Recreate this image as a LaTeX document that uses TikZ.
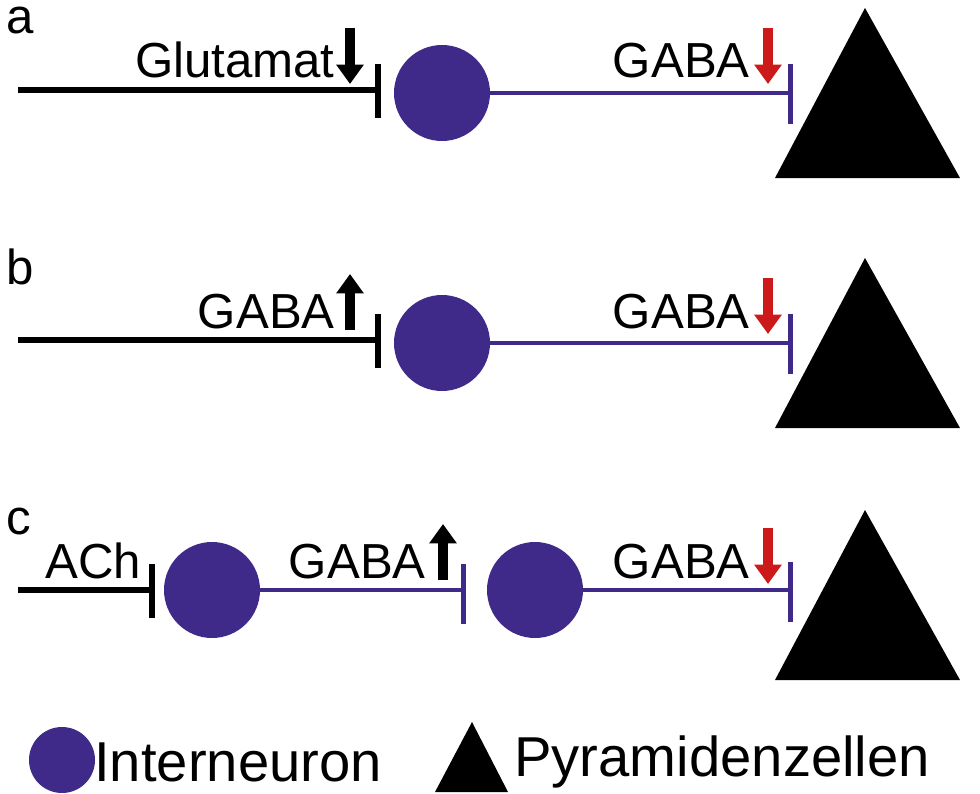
\documentclass[tikz,border=0pt]{standalone}
\usepackage{fontspec}
\setmainfont{Liberation Sans}
\usetikzlibrary{arrows.meta}
\definecolor{pur}{HTML}{3F2A8A}
\definecolor{rd}{HTML}{CC1A1A}
\begin{document}
\begin{tikzpicture}[x=0.02cm,y=-0.02cm,
  lab/.style={font=\fontsize{28}{28}\selectfont,inner sep=0pt},
  big/.style={font=\fontsize{32}{32}\selectfont,inner sep=0pt,anchor=west},
  neuron/.style={circle,fill=pur,minimum size=96*0.02cm,inner sep=0pt},
  inline/.style={line width=6*0.02cm,black},
  pline/.style={line width=4*0.02cm,pur},
  bbar/.style={line width=6*0.02cm,black},
  pbar/.style={line width=5*0.02cm,pur},
  blk/.style={-{Triangle[length=11pt,width=15pt]},line width=10*0.02cm,black},
  red/.style={blk,rd},
  pyr/.style={fill=black}]
\useasboundingbox (0,0) rectangle (980,794);
\foreach \r/\l/\dy in {a/a/0,b/b/250,c/c/500}{\node[lab,anchor=base west,font=\fontsize{28}{28}\selectfont] (lab\r) at (6,34+\dy) {\l};}
% rows a and b
\foreach \r/\dy/\txt in {a/0/Glutamat,b/250/GABA}{
  \coordinate (s\r) at (18,90+\dy);
  \coordinate (e\r) at (378,90+\dy);
  \draw[inline] (s\r) -- (e\r);
  \draw[bbar] (378,64+\dy) -- (378,118+\dy);
  \node[neuron] (n\r) at (442,93+\dy) {};
  \coordinate (pe\r) at (790,93+\dy);
  \draw[pline] (n\r) -- (pe\r);
  \draw[pbar] (790,64+\dy) -- (790,124+\dy);
  \node[lab,anchor=base east] (t\r) at (335,78+\dy) {\txt};
  \node[lab,anchor=base east] (g\r) at (750,78+\dy) {GABA};
  \draw[red] (768,28+\dy) -- (768,84+\dy);
  \fill[pyr] (865,8+\dy) -- (960,178+\dy) -- (775,178+\dy) -- cycle;
}
\draw[blk] (350,28) -- (350,84);
\draw[blk] (350,330) -- (350,274);
% row c
\coordinate (sc) at (18,590);
\coordinate (ec) at (152,590);
\draw[inline] (sc) -- (ec);
\draw[bbar] (152,564) -- (152,618);
\node[neuron] (c1) at (212,590) {};
\coordinate (b1) at (463,590);
\draw[pline] (c1) -- (b1);
\draw[pbar] (463,564) -- (463,624);
\node[neuron] (c2) at (535,590) {};
\coordinate (b2) at (790,590);
\draw[pline] (c2) -- (b2);
\draw[pbar] (790,562) -- (790,622);
\fill[pyr] (865,510) -- (960,680) -- (775,680) -- cycle;
\node[lab,anchor=base west] (ach) at (45,578) {ACh};
\node[lab,anchor=base east] (gc1) at (426,578) {GABA};
\draw[blk] (443,580) -- (443,524);
\node[lab,anchor=base east] (gc2) at (750,578) {GABA};
\draw[red] (768,528) -- (768,584);
% legend
\node[neuron,minimum size=66*0.02cm] (leg1) at (62,760) {};
\node[big] (li) at (94,762) {Interneuron};
\fill[pyr] (472,722) -- (508,792) -- (435,792) -- cycle;
\node[big] (lp) at (514,762) {Pyramidenzellen};
\end{tikzpicture}
\end{document}
